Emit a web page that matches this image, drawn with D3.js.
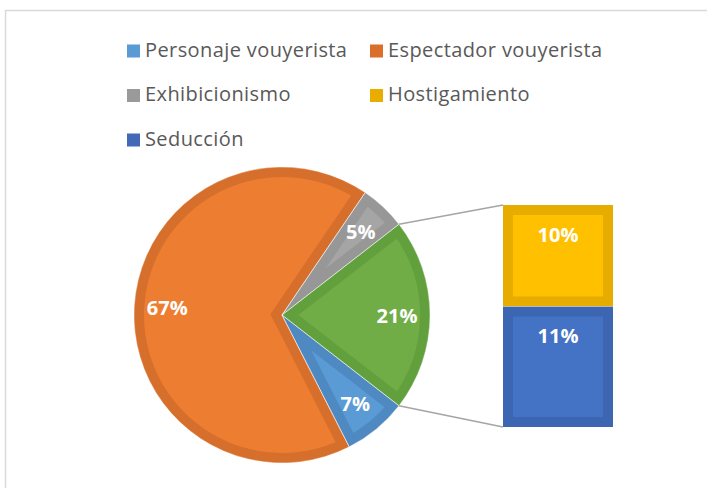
<!DOCTYPE html>
<html>
<head>
<meta charset="utf-8">
<script src="https://cdn.jsdelivr.net/npm/d3@7"></script>
<style>
  html, body { margin: 0; padding: 0; background: #fff; }
  svg { display: block; }
</style>
</head>
<body>
<svg id="chart" width="707" height="488"></svg>
<script>
// ---- data ----
const pieCategories = ["Personaje vouyerista", "Espectador vouyerista", "Exhibicionismo", "Otros"];
const pieValues = [7, 67, 5, 21];
const pieLabels = ["7%", "67%", "5%", "21%"];
const barCategories = ["Hostigamiento", "Seducción"];
const barValues = [9.6, 11.4];
const barLabels = ["10%", "11%"];
const legendItems = ["Personaje vouyerista", "Espectador vouyerista", "Exhibicionismo", "Hostigamiento", "Seducción"];

// ---- styles ----
const pieFill = ["#5B9BD5", "#ED7D31", "#A5A5A5", "#70AD47"];
const pieEdge = ["#4F89C2", "#D56F2B", "#979797", "#62A03D"];
const barFill = ["#FFC000", "#4472C4"];
const barEdge = ["#E6AC00", "#3D66B2"];
const legendColors = ["#5B9BD5", "#D96F2B", "#9A9A9A", "#E8AD00", "#4169B8"];
const FONT = "'Open Sans', 'Noto Sans', sans-serif";

const svg = d3.select("#chart");

// chart border
svg.append("rect")
  .attr("x", 5.5).attr("y", 10.5).attr("width", 800).attr("height", 600)
  .attr("fill", "none").attr("stroke", "#D9D9D9").attr("stroke-width", 1.5);

// ---- legend ----
const legX = [127, 370];
const legY = [51, 95.5, 140];
const leg = svg.append("g");
legendItems.forEach((name, i) => {
  const x = legX[i % 2], y = legY[Math.floor(i / 2)];
  leg.append("rect").attr("x", x).attr("y", y - 6.5).attr("width", 13).attr("height", 13)
    .attr("fill", legendColors[i]);
  leg.append("text").attr("x", x + 18).attr("y", y + 5.5)
    .attr("font-family", FONT).attr("font-size", 20).attr("letter-spacing", 0.4)
    .attr("fill", "#595959").text(name);
});

// ---- pie ----
const cx = 282, cy = 315, r = 148, band = 10;
const total = d3.sum(pieValues);
const otherIdx = pieValues.length - 1;
// rotate so that the "other" slice is centred at 3 o'clock
const otherStart = d3.sum(pieValues.slice(0, otherIdx)) / total * 2 * Math.PI;
const otherMid = otherStart + pieValues[otherIdx] / total * Math.PI;
const rot = Math.PI / 2 - otherMid;

const pie = d3.pie().sort(null).value(d => d)
  .startAngle(rot).endAngle(rot + 2 * Math.PI);
const arcs = pie(pieValues);
const arc = d3.arc().innerRadius(0).outerRadius(r);
const labelArc = d3.arc().innerRadius(115).outerRadius(115);

const defs = svg.append("defs");
const pg = svg.append("g").attr("transform", `translate(${cx},${cy})`);

arcs.forEach((a, i) => {
  const id = "clipSlice" + i;
  defs.append("clipPath").attr("id", id)
    .append("path").attr("d", arc(a));
  pg.append("path").attr("d", arc(a))
    .attr("fill", pieFill[i])
    .attr("stroke", pieEdge[i]).attr("stroke-width", band * 2)
    .attr("stroke-linejoin", "miter")
    .attr("clip-path", `url(#${id})`);
});
// thin light separators
arcs.forEach((a, i) => {
  pg.append("path").attr("d", arc(a))
    .attr("fill", "none").attr("stroke", "#ffffff").attr("stroke-opacity", 0.45)
    .attr("stroke-width", 1);
});

// pie labels
arcs.forEach((a, i) => {
  const [lx, ly] = labelArc.centroid(a);
  pg.append("text").attr("x", lx).attr("y", ly)
    .attr("text-anchor", "middle").attr("dominant-baseline", "central")
    .attr("font-family", FONT).attr("font-weight", "bold")
    .attr("font-size", 20).attr("fill", "#ffffff").text(pieLabels[i]);
});

// ---- bar ----
const barX = 503, barW = 110;
const y = d3.scaleLinear().domain([0, d3.sum(barValues)]).range([205, 427]);
const cum = d3.cumsum(barValues);
const bg = svg.append("g");
barValues.forEach((v, i) => {
  const y0 = y(cum[i] - v), y1 = y(cum[i]);
  bg.append("rect").attr("x", barX).attr("y", y0).attr("width", barW).attr("height", y1 - y0)
    .attr("fill", barEdge[i]);
  bg.append("rect").attr("x", barX + band).attr("y", y0 + band)
    .attr("width", barW - 2 * band).attr("height", y1 - y0 - 2 * band)
    .attr("fill", barFill[i]);
  bg.append("text").attr("x", barX + barW / 2).attr("y", y0 + 29)
    .attr("text-anchor", "middle").attr("dominant-baseline", "central")
    .attr("font-family", FONT).attr("font-weight", "bold")
    .attr("font-size", 20).attr("fill", "#ffffff").text(barLabels[i]);
});
bg.append("line").attr("x1", barX).attr("x2", barX + barW)
  .attr("y1", y(cum[0])).attr("y2", y(cum[0]))
  .attr("stroke", "#ffffff").attr("stroke-opacity", 0.3).attr("stroke-width", 1);

// ---- connector lines ----
const oa = arcs[otherIdx];
const p0 = [cx + r * Math.sin(oa.startAngle), cy - r * Math.cos(oa.startAngle)];
const p1 = [cx + r * Math.sin(oa.endAngle), cy - r * Math.cos(oa.endAngle)];
svg.append("line").attr("x1", p0[0]).attr("y1", p0[1]).attr("x2", barX).attr("y2", y(0))
  .attr("stroke", "#A5A5A5").attr("stroke-width", 1.5);
svg.append("line").attr("x1", p1[0]).attr("y1", p1[1]).attr("x2", barX).attr("y2", y(d3.sum(barValues)))
  .attr("stroke", "#A5A5A5").attr("stroke-width", 1.5);
</script>
</body>
</html>
